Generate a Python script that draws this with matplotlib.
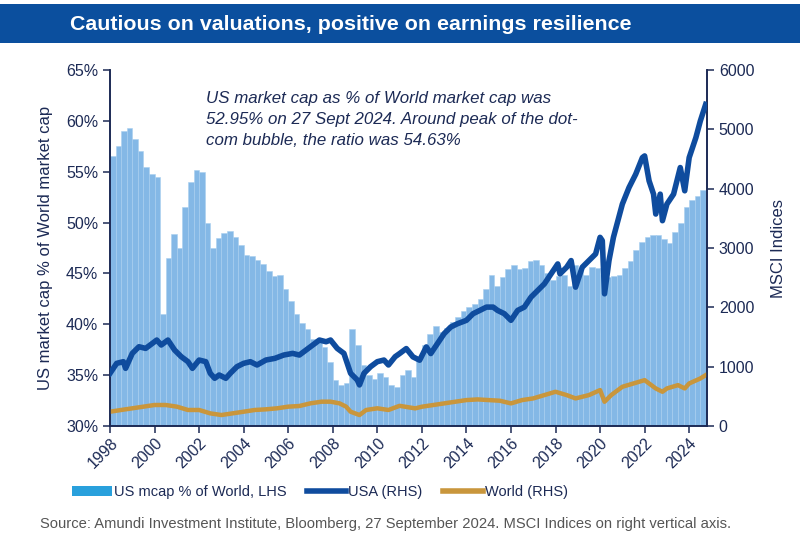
import matplotlib.pyplot as plt
from matplotlib.patches import Rectangle
from matplotlib.lines import Line2D
from matplotlib.ticker import FuncFormatter

# US mcap as % of World mcap, quarterly from 1998.0
share_start = 1998.0
share_pct = [
    56.5, 57.5, 59.0, 59.3,   # 1998
    58.2, 57.0, 55.5, 54.8,   # 1999
    54.5, 41.0, 46.5, 48.9,   # 2000
    47.5, 51.5, 54.0, 55.2,   # 2001
    55.0, 50.0, 47.5, 48.5,   # 2002
    49.0, 49.2, 48.6, 47.8,   # 2003
    46.8, 46.7, 46.3, 45.9,   # 2004
    45.2, 44.7, 44.8, 43.5,   # 2005
    42.3, 41.0, 40.1, 39.5,   # 2006
    38.6, 38.3, 37.8, 36.3,   # 2007
    34.5, 34.0, 34.2, 39.5,   # 2008
    38.0, 36.0, 35.0, 34.6,   # 2009
    35.2, 34.8, 34.0, 33.8,   # 2010
    35.0, 35.5, 34.8, 36.5,   # 2011
    38.0, 39.0, 39.8, 39.2,   # 2012
    39.6, 40.2, 40.7, 41.3,   # 2013
    41.7, 42.0, 42.5, 43.5,   # 2014
    44.8, 43.8, 44.6, 45.4,   # 2015
    45.8, 45.4, 45.5, 46.2,   # 2016
    46.3, 45.8, 45.0, 44.4,   # 2017
    44.7, 44.8, 43.8, 45.8,   # 2018
    45.3, 44.8, 45.6, 45.5,   # 2019
    44.8, 44.6, 44.7, 44.8,   # 2020
    45.5, 46.2, 47.3, 48.1,   # 2021
    48.6, 48.8, 48.8, 48.4,   # 2022
    48.0, 49.1, 50.0, 51.5,   # 2023
    52.2, 52.6, 53.2, 52.95,  # 2024
]
share_years = [share_start + 0.25 * i for i in range(len(share_pct))]

# MSCI USA index (RHS)
usa_years = [1998.0, 1998.3, 1998.6, 1998.7, 1999.0, 1999.3, 1999.6, 1999.9, 2000.1, 2000.3,
             2000.6, 2000.9, 2001.2, 2001.5, 2001.7, 2002.0, 2002.3, 2002.5, 2002.7, 2002.9,
             2003.2, 2003.4, 2003.7, 2004.0, 2004.3, 2004.6, 2005.0, 2005.4, 2005.8, 2006.2,
             2006.5, 2006.8, 2007.2, 2007.4, 2007.7, 2007.9, 2008.2, 2008.5, 2008.8, 2009.1,
             2009.2, 2009.4, 2009.7, 2010.0, 2010.3, 2010.5, 2010.8, 2011.0, 2011.3, 2011.6,
             2011.9, 2012.2, 2012.4, 2012.7, 2013.0, 2013.3, 2013.6, 2014.0, 2014.3, 2014.6,
             2014.9, 2015.2, 2015.4, 2015.7, 2016.0, 2016.3, 2016.6, 2016.9, 2017.2, 2017.5,
             2017.8, 2018.1, 2018.2, 2018.5, 2018.7, 2018.9, 2019.2, 2019.5, 2019.8, 2020.0,
             2020.1, 2020.2, 2020.4, 2020.6, 2020.8, 2021.0, 2021.3, 2021.6, 2021.9, 2022.0,
             2022.2, 2022.4, 2022.5, 2022.7, 2022.8, 2023.0, 2023.3, 2023.6, 2023.8, 2024.0,
             2024.3, 2024.5, 2024.74]
usa_idx = [888, 1056, 1084, 972, 1224, 1336, 1308, 1392, 1449, 1365,
           1449, 1280, 1168, 1084, 972, 1112, 1084, 888, 804, 860,
           804, 888, 1000, 1056, 1084, 1028, 1112, 1140, 1196, 1224,
           1196, 1280, 1392, 1449, 1420, 1449, 1308, 1224, 888, 776,
           692, 888, 1000, 1084, 1112, 1028, 1168, 1221, 1305, 1165,
           1109, 1333, 1221, 1389, 1557, 1669, 1724, 1781, 1893, 1948,
           2004, 2004, 1948, 1893, 1781, 1948, 2004, 2172, 2284, 2396,
           2564, 2732, 2564, 2676, 2788, 2340, 2676, 2788, 2900, 3180,
           3124, 2228, 2788, 3180, 3460, 3740, 4020, 4244, 4524, 4552,
           4132, 3908, 3572, 3908, 3460, 3740, 3908, 4356, 3964, 4524,
           4860, 5140, 5420]

# MSCI World index (RHS)
world_years = [1998.0, 1998.5, 1999.0, 1999.5, 2000.0, 2000.5, 2001.0, 2001.5, 2002.0, 2002.5,
               2003.0, 2003.5, 2004.0, 2004.5, 2005.0, 2005.5, 2006.0, 2006.5, 2007.0, 2007.5,
               2007.9, 2008.3, 2008.6, 2008.8, 2009.2, 2009.5, 2010.0, 2010.5, 2011.0, 2011.7,
               2012.0, 2012.5, 2013.0, 2013.5, 2014.0, 2014.5, 2015.0, 2015.5, 2016.0, 2016.5,
               2017.0, 2017.5, 2018.0, 2018.5, 2018.9, 2019.5, 2020.0, 2020.2, 2020.5, 2021.0,
               2021.5, 2022.0, 2022.5, 2022.8, 2023.0, 2023.5, 2023.8, 2024.0, 2024.5, 2024.74]
world_idx = [241, 270, 298, 326, 354, 354, 326, 270, 270, 213,
             185, 213, 241, 270, 281, 298, 326, 337, 382, 410,
             410, 382, 326, 241, 185, 270, 298, 270, 340, 297,
             325, 353, 381, 409, 437, 448, 437, 426, 381, 437,
             465, 521, 577, 521, 465, 521, 605, 409, 521, 661,
             717, 773, 633, 577, 633, 689, 633, 717, 801, 857]

year_ticks = list(range(1998, 2025, 2))

navy = '#1c2a55'
bar_blue = '#84b8e6'
usa_blue = '#0f4c9e'
world_gold = '#c9963c'

fig = plt.figure(figsize=(8, 5.52), dpi=100, facecolor='w')
plt.rcParams['font.family'] = ['Liberation Sans', 'DejaVu Sans']

# title banner
fig.patches.append(Rectangle((0, 1 - 43 / 552), 1, 39 / 552, transform=fig.transFigure,
                             facecolor='#0b4f9e', edgecolor='none'))
fig.text(70 / 800, 1 - 24 / 552, 'Cautious on valuations, positive on earnings resilience',
         color='white', fontsize=15.4, fontweight='bold', va='center', ha='left')

ax = fig.add_axes([110 / 800, 1 - 426 / 552, 597 / 800, 356 / 552])
ax.bar(share_years, [v - 30 for v in share_pct], bottom=30, width=0.25, align='edge',
       color=bar_blue, edgecolor='#a9cff0', linewidth=0.4, zorder=1)
ax.set_xlim(1998.0, 2024.8)
ax.set_ylim(30, 65)
ax.set_yticks(range(30, 66, 5))
ax.yaxis.set_major_formatter(FuncFormatter(lambda v, p: '%d%%' % v))
ax.set_xticks(year_ticks)
ax.set_xticklabels([str(y) for y in year_ticks], rotation=45, ha='right', rotation_mode='anchor')
ax.set_ylabel('US market cap % of World market cap', color=navy, fontsize=12, labelpad=9)

ax2 = ax.twinx()
ax2.plot(usa_years, usa_idx, color=usa_blue, lw=4, solid_joinstyle='round', zorder=3)
ax2.plot(world_years, world_idx, color=world_gold, lw=3.2, solid_joinstyle='round', zorder=2)
ax2.set_ylim(0, 6000)
ax2.set_yticks(range(0, 6001, 1000))
ax2.set_ylabel('MSCI Indices', color=navy, fontsize=12, labelpad=12)

for a in (ax, ax2):
    a.spines['top'].set_visible(False)
    for s in ('left', 'right', 'bottom'):
        a.spines[s].set_color(navy)
        a.spines[s].set_linewidth(1.2)
    a.tick_params(colors=navy, labelsize=11.5, length=5, width=1.1)
ax.tick_params(axis='x', pad=2)

ax.text(0.161, 0.94,
        'US market cap as % of World market cap was\n'
        '52.95% on 27 Sept 2024. Around peak of the dot-\n'
        'com bubble, the ratio was 54.63%',
        transform=ax.transAxes, style='italic', color=navy, fontsize=12.2,
        va='top', ha='left', linespacing=1.5)

handles = [Rectangle((0, 0), 1, 1, facecolor='#29a0dc', edgecolor='none'),
           Line2D([], [], color=usa_blue, lw=4),
           Line2D([], [], color=world_gold, lw=4)]
labels = ['US mcap % of World, LHS', 'USA (RHS)', 'World (RHS)']
fig.legend(handles, labels, loc='center', bbox_to_anchor=(320 / 800, 1 - 492 / 552), ncol=3,
           frameon=False, handlelength=2.7, handletextpad=0.15,
           columnspacing=1.4, labelcolor=navy, fontsize=10.5)

fig.text(40 / 800, 1 - 524 / 552,
         'Source: Amundi Investment Institute, Bloomberg, 27 September 2024. '
         'MSCI Indices on right vertical axis.',
         color='#555555', fontsize=10.6, va='center', ha='left')

plt.savefig('out.png', dpi=100)
